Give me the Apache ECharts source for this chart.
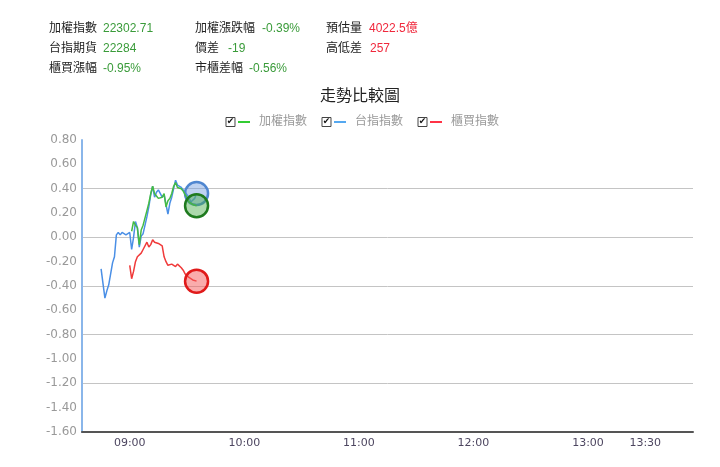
<!DOCTYPE html>
<html><head><meta charset="utf-8">
<script src="https://cdn.jsdelivr.net/npm/echarts@6/dist/echarts.min.js"></script>
<style>html,body{margin:0;padding:0;background:#fff}#c{width:720px;height:467px}</style>
</head><body><div id="c"></div>
<script>
// ---- data ----
const times = ['08:45','08:46','08:47','08:48','08:49','08:50','08:51','08:52','08:53','08:54',
  '08:55','08:56','08:57','08:58','08:59','09:00','09:01','09:02','09:03','09:04',
  '09:05','09:06','09:07','09:08','09:09','09:10','09:11','09:12','09:13','09:14',
  '09:15','09:16','09:17','09:18','09:19','09:20','09:21','09:22','09:23','09:24',
  '09:25','09:26','09:27','09:28','09:29','09:30','09:31','09:32','09:33','09:34','09:35'];
const taiexPct = [null,null,null,null,null,null,null,null,null,null,null,null,null,null,null,null,
  0.05,0.13,0.10,0.08,-0.06,0.06,0.10,0.16,0.22,0.28,0.36,0.42,0.36,0.34,0.32,0.33,0.33,0.36,0.25,0.30,
  0.32,0.36,0.42,0.45,0.41,0.41,0.40,0.38,0.35,0.33,0.29,0.28,0.27,0.27,0.26];
const futuresPct = [-0.26,-0.38,-0.50,-0.44,-0.39,-0.40,-0.21,-0.16,0.02,0.04,0.02,0.04,0.03,0.02,0.02,0.04,
  -0.10,0.00,0.13,0.08,-0.08,0.01,0.03,0.10,0.17,0.25,0.35,0.42,0.33,0.37,0.39,0.40,0.33,0.35,0.27,0.19,
  0.28,0.33,0.40,0.47,0.43,0.43,0.41,0.39,0.37,0.35,0.33,0.29,0.30,0.32,0.36];
const otcPct = [null,null,null,null,null,null,null,null,null,null,null,null,null,null,null,
  -0.23,-0.34,-0.28,-0.20,-0.16,-0.17,-0.13,-0.10,-0.11,-0.04,-0.08,-0.06,-0.02,-0.04,-0.03,-0.05,
  -0.04,-0.07,-0.16,-0.20,-0.23,-0.24,-0.22,-0.21,-0.24,-0.22,-0.23,-0.25,-0.27,-0.30,-0.31,-0.33,
  -0.34,-0.35,-0.35,-0.36];
const seriesNames = ['加權指數','台指指數','櫃買指數'];
const xTickLabels = ['09:00','10:00','11:00','12:00','13:00','13:30'];
const xRange = ['08:35','13:55'];
const headLabels = [['加權指數','加權漲跌幅','預估量'],['台指期貨','價差','高低差'],['櫃買漲幅','市櫃差幅']];
const headValues = [['22302.71','-0.39%','4022.5億'],['22284','-19','257'],['-0.95%','-0.56%']];
const title = '走勢比較圖';

// ---- layout / style ----
const toMin = t => { const [h,m] = t.split(':').map(Number); return h*60+m; };
const fmt = v => { const h = Math.floor(v/60), m = Math.round(v%60); return String(h).padStart(2,'0')+':'+String(m).padStart(2,'0'); };
const colors = ['#44bb44','#4a8fe6','#f03a3a'];
const legendColors = ['#33cc33','#55a8f0','#ff3346'];
const fills = ['rgba(70,170,70,0.45)','rgba(110,155,225,0.45)','rgba(245,90,90,0.5)'];
const borders = ['#1e7a1e','#4f86d0','#e01a1a'];
const labelX = [49,195,326];
const valueX = [[103,262,369],[103,228,370],[103,249]];
const rowY = [31,51,71];
const valueColors = ['#3a9b3a','#3a9b3a','#f0283c'];
const CJK = "'Liberation Sans','Noto Sans CJK TC',sans-serif";

const graphics = [];
headLabels.forEach((row,r)=>row.forEach((lab,c)=>{
  graphics.push({type:'text',left:labelX[c],top:rowY[r]-8,style:{text:lab,font:'12px '+CJK,fill:'#222'}});
  graphics.push({type:'text',left:valueX[r][c],top:rowY[r]-8,style:{text:headValues[r][c],font:'12px '+CJK,fill:valueColors[c]}});
}));

function mk(idx, vals, z){
  const pts = [];
  times.forEach((t,i)=>{ if (vals[i] != null) pts.push([toMin(t), vals[i]]); });
  const data = pts.map((p,i)=> i===pts.length-1
    ? {value:p, symbol:'circle', symbolSize:23, itemStyle:{color:fills[idx], borderColor:borders[idx], borderWidth:2.5}}
    : {value:p});
  return {name:seriesNames[idx], type:'line', data, symbol:'none', showSymbol:true, z,
    lineStyle:{color:colors[idx], width:1.5}, itemStyle:{color:colors[idx]},
    emphasis:{disabled:true}, animation:false};
}

const rich = {
  cb:{width:9,height:9,lineHeight:9,borderColor:'#444',borderWidth:1,fontSize:9,color:'#111',align:'center',fontFamily:'DejaVu Sans'},
  sp1:{width:3}, sp2:{width:9},
  l0:{width:12,height:2,lineHeight:2,backgroundColor:legendColors[0]},
  l1:{width:12,height:2,lineHeight:2,backgroundColor:legendColors[1]},
  l2:{width:12,height:2,lineHeight:2,backgroundColor:legendColors[2]},
  t:{fontSize:12,color:'#999',fontFamily:CJK}
};

const chart = echarts.init(document.getElementById('c'), null, {renderer:'canvas'});
chart.setOption({
  animation:false,
  backgroundColor:'#fff',
  title:{text:title,left:'center',top:84,textStyle:{fontSize:16,fontWeight:'normal',color:'#222',fontFamily:CJK}},
  legend:{data:seriesNames,left:'center',top:111,icon:'none',itemWidth:0,itemHeight:0,itemGap:10,
    formatter:name=>{const i=seriesNames.indexOf(name);return '{cb|✔}{sp1| }{l'+i+'| }{sp2| }{t|'+name+'}';},
    textStyle:{rich}},
  graphic:graphics,
  grid:{left:82,right:27,top:140,bottom:35},
  xAxis:{type:'value',min:toMin(xRange[0]),max:toMin(xRange[1]),
    axisLine:{onZero:false,lineStyle:{color:'#555',width:2}},axisTick:{show:false},splitLine:{show:false},
    axisLabel:{customValues:xTickLabels.map(toMin),formatter:v=>fmt(v),color:'#4d4660',fontSize:11,fontFamily:'DejaVu Sans',margin:6}},
  yAxis:[
    {type:'value',min:-1.6,max:0.8,interval:0.2,
     axisLine:{show:true,onZero:false,lineStyle:{color:'#8ab6ea',width:2}},axisTick:{show:false},splitLine:{show:false},
     axisLabel:{formatter:v=>v.toFixed(2),color:'#999',fontSize:12,fontFamily:'DejaVu Sans',margin:5}},
    {type:'value',min:-1.6,max:0.8,interval:0.4,position:'left',
     axisLine:{show:false},axisTick:{show:false},axisLabel:{show:false},
     splitLine:{show:true,showMinLine:false,showMaxLine:false,lineStyle:{color:'#c4c4c4',width:1}}}
  ],
  series:[mk(1,futuresPct,2), mk(0,taiexPct,3), mk(2,otcPct,4)]
});
</script></body></html>
